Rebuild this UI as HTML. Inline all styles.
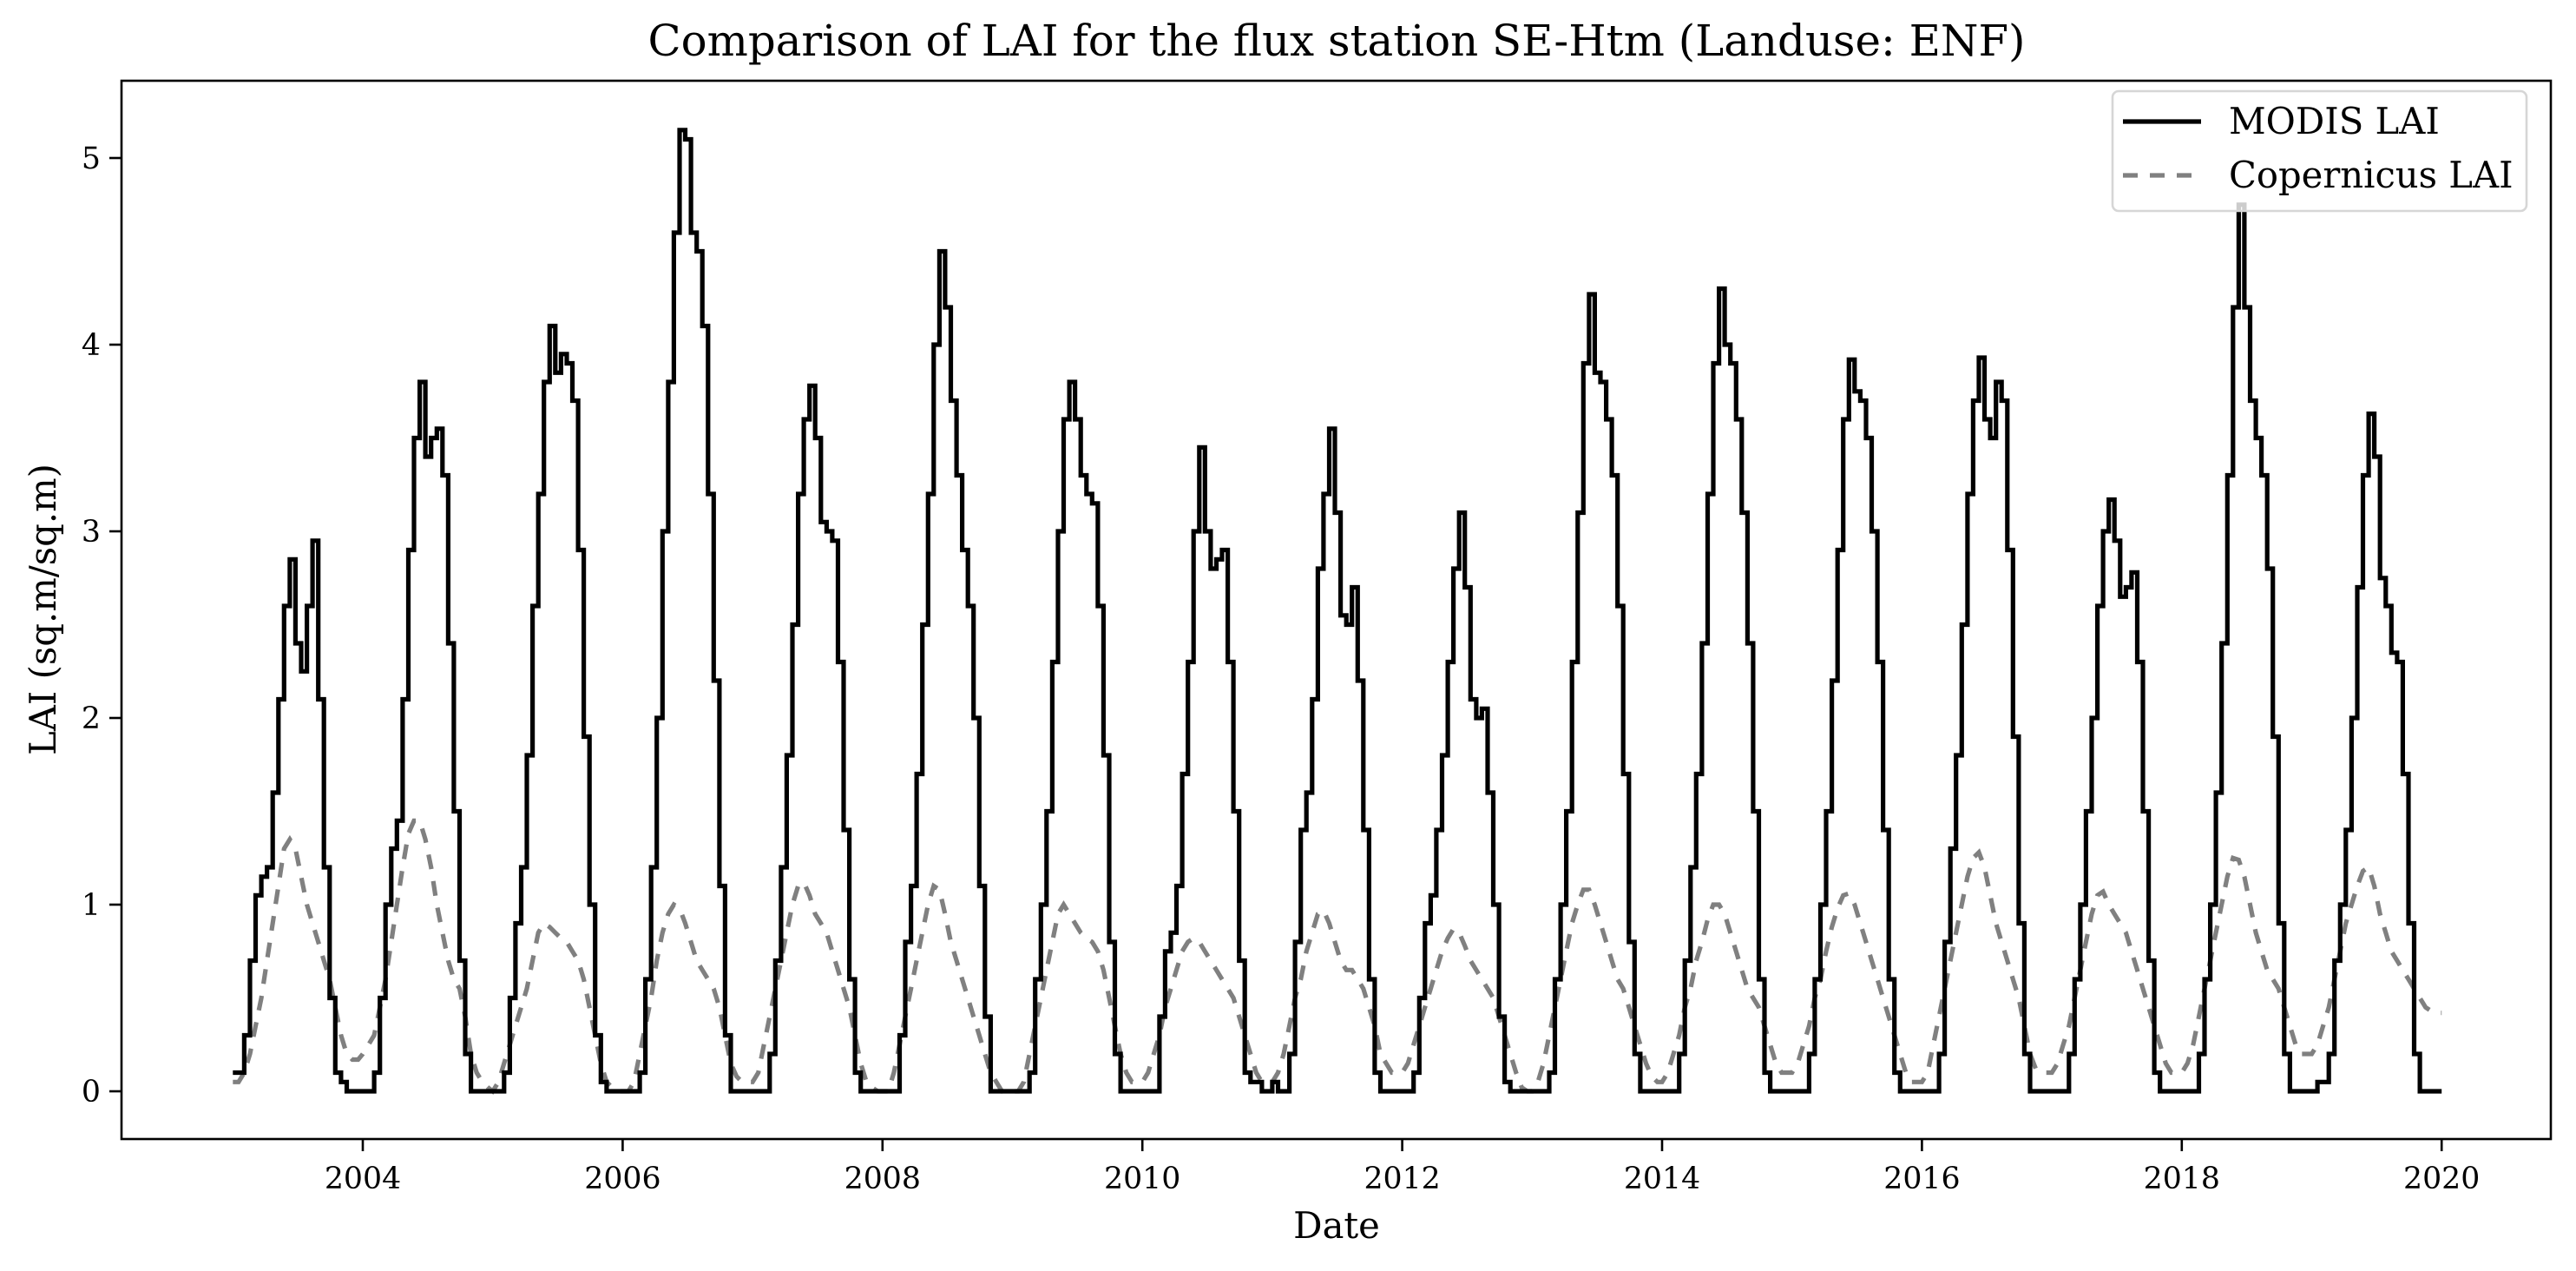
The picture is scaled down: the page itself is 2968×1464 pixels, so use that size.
<!DOCTYPE html>
<html><head><meta charset="utf-8"><style>
html,body{margin:0;padding:0;background:#fff;}
svg{display:block;font-family:"DejaVu Serif","Liberation Serif",serif;}
</style></head><body>
<svg id="chart" width="2968" height="1464" viewBox="0 0 2968 1464" xmlns="http://www.w3.org/2000/svg">
<rect width="2968" height="1464" fill="#fff"/>
<text x="1540" y="64" text-anchor="middle" font-size="49.8">Comparison of LAI for the flux station SE-Htm (Landuse: ENF)</text>
<g id="series"></g>
<g id="axes"></g>
<rect x="140" y="93" width="2799" height="1219" fill="none" stroke="#000" stroke-width="2.6"/>
<text x="1540" y="1426" text-anchor="middle" font-size="41.7">Date</text>
<text transform="translate(64,702) rotate(-90)" text-anchor="middle" font-size="41.7">LAI (sq.m/sq.m)</text>
<g>
<rect x="2434" y="105" width="477" height="138" rx="7" fill="#fff" fill-opacity="0.8" stroke="#d6d6d6" stroke-width="2.6"/>
<line x1="2446" y1="140" x2="2536" y2="140" stroke="#000" stroke-width="5.2"/>
<text x="2568" y="154" font-size="41.7">MODIS LAI</text>
<line x1="2446" y1="202" x2="2536" y2="202" stroke="#808080" stroke-width="5.2" stroke-dasharray="17,14"/>
<text x="2568" y="216" font-size="41.7">Copernicus LAI</text>
</g>
</svg>
<script>
const startYears = [2003,2004,2005,2006,2007,2008,2009,2010,2011,2012,2013,2014,2015,2016,2017,2018,2019];
const modis2003 = [0.1,0.1,0.3,0.7,1.05,1.15,1.2,1.6,2.1,2.6,2.85,2.4,2.25,2.6,2.95,2.1,1.2,0.5,0.1,0.05,0,0,0];
const modis2004 = [0,0,0.1,0.5,1.0,1.3,1.45,2.1,2.9,3.5,3.8,3.4,3.5,3.55,3.3,2.4,1.5,0.7,0.2,0,0,0,0];
const modis2005 = [0,0,0.1,0.5,0.9,1.2,1.8,2.6,3.2,3.8,4.1,3.85,3.95,3.9,3.7,2.9,1.9,1.0,0.3,0.05,0,0,0];
const modis2006 = [0,0,0,0.1,0.6,1.2,2.0,3.0,3.8,4.6,5.15,5.1,4.6,4.5,4.1,3.2,2.2,1.1,0.3,0,0,0,0];
const modis2007 = [0,0,0,0.2,0.7,1.2,1.8,2.5,3.2,3.6,3.78,3.5,3.05,3.0,2.95,2.3,1.4,0.6,0.1,0,0,0,0];
const modis2008 = [0,0,0,0.3,0.8,1.1,1.7,2.5,3.2,4.0,4.5,4.2,3.7,3.3,2.9,2.6,2.0,1.1,0.4,0,0,0,0];
const modis2009 = [0,0,0,0.1,0.6,1.0,1.5,2.3,3.0,3.6,3.8,3.6,3.3,3.2,3.15,2.6,1.8,0.8,0.2,0,0,0,0];
const modis2010 = [0,0,0,0.4,0.75,0.85,1.1,1.7,2.3,3.0,3.45,3.0,2.8,2.85,2.9,2.3,1.5,0.7,0.1,0.05,0.05,0,0];
const modis2011 = [0.05,0,0,0.2,0.8,1.4,1.6,2.1,2.8,3.2,3.55,3.1,2.55,2.5,2.7,2.2,1.4,0.6,0.1,0,0,0,0];
const modis2012 = [0,0,0.1,0.5,0.9,1.05,1.4,1.8,2.3,2.8,3.1,2.7,2.1,2.0,2.05,1.6,1.0,0.4,0.05,0,0,0,0];
const modis2013 = [0,0,0,0.1,0.6,1.0,1.5,2.3,3.1,3.9,4.27,3.85,3.8,3.6,3.3,2.6,1.7,0.8,0.2,0,0,0,0];
const modis2014 = [0,0,0,0.2,0.7,1.2,1.7,2.4,3.2,3.9,4.3,4.0,3.9,3.6,3.1,2.4,1.5,0.6,0.1,0,0,0,0];
const modis2015 = [0,0,0,0.2,0.6,1.0,1.5,2.2,2.9,3.6,3.92,3.75,3.7,3.5,3.0,2.3,1.4,0.6,0.1,0,0,0,0];
const modis2016 = [0,0,0,0.2,0.8,1.3,1.8,2.5,3.2,3.7,3.93,3.6,3.5,3.8,3.7,2.9,1.9,0.9,0.2,0,0,0,0];
const modis2017 = [0,0,0,0.2,0.6,1.0,1.5,2.0,2.6,3.0,3.17,2.95,2.65,2.7,2.78,2.3,1.5,0.7,0.1,0,0,0,0];
const modis2018 = [0,0,0,0.2,0.6,1.0,1.6,2.4,3.3,4.2,4.75,4.2,3.7,3.5,3.3,2.8,1.9,0.9,0.2,0,0,0,0];
const modis2019 = [0,0.05,0.05,0.2,0.7,1.0,1.4,2.0,2.7,3.3,3.63,3.4,2.75,2.6,2.35,2.3,1.7,0.9,0.2,0,0,0,0];
const cop2003 = [0.05,0.05,0.1,0.2,0.35,0.5,0.7,0.9,1.1,1.3,1.35,1.3,1.15,1.0,0.9,0.8,0.7,0.6,0.45,0.3,0.2,0.17,0.17];
const cop2004 = [0.2,0.25,0.3,0.45,0.6,0.8,1.0,1.2,1.38,1.45,1.45,1.35,1.2,1.0,0.85,0.7,0.6,0.55,0.4,0.2,0.1,0.05,0.02];
const cop2005 = [0,0.05,0.15,0.25,0.35,0.45,0.55,0.7,0.85,0.9,0.88,0.85,0.82,0.8,0.75,0.7,0.6,0.45,0.3,0.15,0.05,0.02,0];
const cop2006 = [0,0,0.05,0.2,0.35,0.5,0.7,0.85,0.95,1.0,0.98,0.9,0.8,0.7,0.65,0.6,0.55,0.45,0.3,0.15,0.08,0.05,0.05];
const cop2007 = [0.05,0.1,0.25,0.4,0.55,0.7,0.85,1.0,1.1,1.12,1.05,0.95,0.9,0.85,0.75,0.65,0.55,0.45,0.3,0.15,0.05,0.02,0];
const cop2008 = [0,0,0.1,0.25,0.4,0.55,0.7,0.85,1.0,1.1,1.08,0.95,0.8,0.7,0.6,0.5,0.4,0.3,0.2,0.1,0.05,0,0];
const cop2009 = [0,0,0.05,0.2,0.35,0.5,0.65,0.8,0.95,1.0,0.95,0.9,0.85,0.82,0.8,0.75,0.65,0.5,0.35,0.2,0.1,0.05,0.05];
const cop2010 = [0.05,0.1,0.2,0.3,0.45,0.55,0.65,0.75,0.8,0.82,0.8,0.75,0.7,0.65,0.6,0.55,0.5,0.4,0.3,0.2,0.1,0.05,0.05];
const cop2011 = [0.05,0.1,0.2,0.35,0.5,0.6,0.75,0.85,0.95,0.97,0.9,0.8,0.7,0.65,0.65,0.6,0.55,0.45,0.35,0.2,0.15,0.1,0.1];
const cop2012 = [0.1,0.15,0.25,0.35,0.45,0.55,0.65,0.75,0.82,0.87,0.85,0.78,0.7,0.65,0.6,0.55,0.5,0.4,0.3,0.2,0.1,0.02,0];
const cop2013 = [0,0.05,0.15,0.3,0.45,0.6,0.75,0.9,1.0,1.08,1.08,1.0,0.9,0.8,0.7,0.6,0.55,0.45,0.35,0.25,0.15,0.08,0.05];
const cop2014 = [0.05,0.1,0.2,0.3,0.45,0.55,0.7,0.8,0.92,1.0,1.0,0.95,0.85,0.75,0.65,0.55,0.5,0.45,0.35,0.25,0.15,0.1,0.1];
const cop2015 = [0.1,0.15,0.25,0.35,0.5,0.6,0.75,0.88,0.98,1.05,1.06,1.0,0.9,0.8,0.7,0.6,0.5,0.4,0.3,0.2,0.1,0.05,0.05];
const cop2016 = [0.05,0.1,0.25,0.4,0.55,0.7,0.85,1.0,1.15,1.25,1.28,1.2,1.05,0.9,0.8,0.7,0.6,0.5,0.35,0.2,0.12,0.1,0.1];
const cop2017 = [0.1,0.15,0.25,0.35,0.5,0.65,0.8,0.95,1.05,1.07,1.0,0.95,0.9,0.85,0.75,0.65,0.55,0.45,0.35,0.25,0.15,0.1,0.1];
const cop2018 = [0.1,0.15,0.25,0.4,0.55,0.7,0.85,1.0,1.15,1.25,1.24,1.15,1.0,0.85,0.75,0.65,0.6,0.55,0.45,0.35,0.25,0.2,0.2];
const cop2019 = [0.2,0.25,0.35,0.45,0.6,0.75,0.9,1.0,1.1,1.18,1.2,1.1,0.95,0.85,0.75,0.7,0.65,0.6,0.55,0.5,0.45,0.43,0.42];
const modisFinal = 0;
const copFinal = 0.42;
const xTickLabels = ["2004","2006","2008","2010","2012","2014","2016","2018","2020"];
const yTickLabels = ["0","1","2","3","4","5"];

const modisYears = [modis2003,modis2004,modis2005,modis2006,modis2007,modis2008,modis2009,modis2010,modis2011,modis2012,modis2013,modis2014,modis2015,modis2016,modis2017,modis2018,modis2019];
const copYears = [cop2003,cop2004,cop2005,cop2006,cop2007,cop2008,cop2009,cop2010,cop2011,cop2012,cop2013,cop2014,cop2015,cop2016,cop2017,cop2018,cop2019];

const NS = "http://www.w3.org/2000/svg";
function xScale(t){ return 418 + (t - 2004) * 149.7; }
function yScale(v){ return 1257 - v * 215; }

function buildPoints(yearsArr, finalVal){
  const pts = [];
  yearsArr.forEach((arr, k) => {
    arr.forEach((v, i) => pts.push([startYears[k] + i * 16 / 365.25, v]));
  });
  pts.push([startYears[startYears.length - 1] + 1, finalVal]);
  return pts;
}
const series = document.getElementById("series");
const axes = document.getElementById("axes");

const cp = buildPoints(copYears, copFinal);
let dC = "";
cp.forEach((p, i) => { dC += (i ? "L" : "M") + xScale(p[0]).toFixed(1) + "," + yScale(p[1]).toFixed(1); });
const copPath = document.createElementNS(NS, "path");
copPath.setAttribute("d", dC);
copPath.setAttribute("fill", "none");
copPath.setAttribute("stroke", "#808080");
copPath.setAttribute("stroke-width", "5.2");
copPath.setAttribute("stroke-dasharray", "17,14");


series.appendChild(copPath);

const mp = buildPoints(modisYears, modisFinal);
let dM = "";
mp.forEach((p, i) => {
  const x = xScale(p[0]).toFixed(1), y = yScale(p[1]).toFixed(1);
  if (i === 0) dM += "M" + x + "," + y;
  else dM += "H" + x + "V" + y;
});
const modisPath = document.createElementNS(NS, "path");
modisPath.setAttribute("d", dM);
modisPath.setAttribute("fill", "none");
modisPath.setAttribute("stroke", "#000");
modisPath.setAttribute("stroke-width", "5.2");
modisPath.setAttribute("stroke-linejoin", "miter");


series.appendChild(modisPath);

xTickLabels.forEach(lab => {
  const x = xScale(parseFloat(lab));
  const tk = document.createElementNS(NS, "line");
  tk.setAttribute("x1", x); tk.setAttribute("x2", x);
  tk.setAttribute("y1", 1312); tk.setAttribute("y2", 1326);
  tk.setAttribute("stroke", "#000"); tk.setAttribute("stroke-width", "2.6");
  
  
  axes.appendChild(tk);
  const t = document.createElementNS(NS, "text");
  t.setAttribute("x", x); t.setAttribute("y", 1369);
  t.setAttribute("text-anchor", "middle"); t.setAttribute("font-size", "34.7");
  t.textContent = lab;
  
  
  axes.appendChild(t);
});
yTickLabels.forEach(lab => {
  const y = yScale(parseFloat(lab));
  const tk = document.createElementNS(NS, "line");
  tk.setAttribute("x1", 126); tk.setAttribute("x2", 140);
  tk.setAttribute("y1", y); tk.setAttribute("y2", y);
  tk.setAttribute("stroke", "#000"); tk.setAttribute("stroke-width", "2.6");
  
  
  axes.appendChild(tk);
  const t = document.createElementNS(NS, "text");
  t.setAttribute("x", 116); t.setAttribute("y", y + 12);
  t.setAttribute("text-anchor", "end"); t.setAttribute("font-size", "34.7");
  t.textContent = lab;
  
  
  axes.appendChild(t);
});
</script>
</body></html>
